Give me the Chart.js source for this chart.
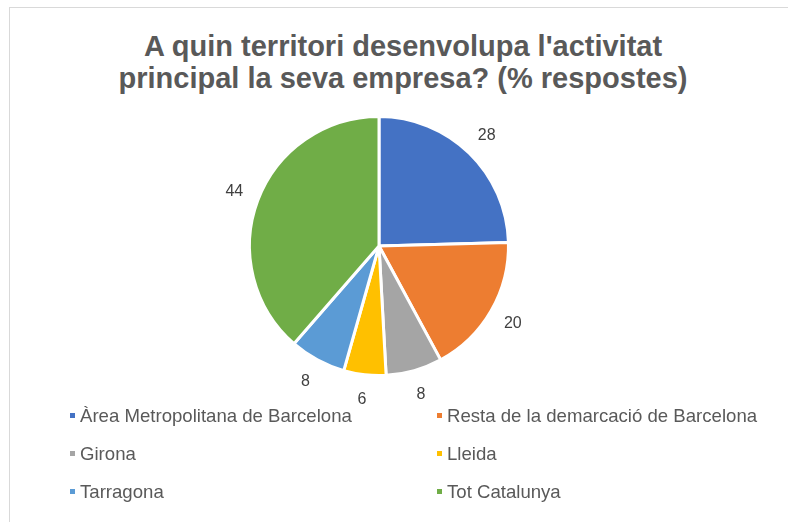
<!DOCTYPE html>
<html>
<head>
<meta charset="utf-8">
<script src="https://cdn.jsdelivr.net/npm/chart.js@4.4.0/dist/chart.umd.min.js"></script>
<style>
  body{margin:0;background:#fff;width:788px;height:522px;overflow:hidden;position:relative;}
  #marc{position:absolute;left:9px;top:7px;width:820px;height:540px;border:1px solid #d9d9d9;box-sizing:border-box;}
  #titol{position:absolute;left:9px;width:788px;top:30px;text-align:center;
    font:bold 29px "Liberation Sans",Arial,sans-serif;line-height:32px;color:#595959;}
  #grafic{position:absolute;left:0;top:0;}
  .llegenda{position:absolute;font:18.6px "Liberation Sans",Arial,sans-serif;color:#595959;white-space:nowrap;line-height:22px;}
  .llegenda span{display:inline-block;width:5px;height:5px;margin-right:5px;vertical-align:4px;}
</style>
</head>
<body>
<div id="marc"></div>
<div id="titol">A quin territori desenvolupa l'activitat<br>principal la seva empresa? (% respostes)</div>
<canvas id="grafic" width="788" height="522"></canvas>
<div id="llegenda"></div>
<script>
const territoris = [
    "Àrea Metropolitana de Barcelona",
    "Resta de la demarcació de Barcelona",
    "Girona",
    "Lleida",
    "Tarragona",
    "Tot Catalunya"
];
const respostes = [28, 20, 8, 6, 8, 44];
const colors = ["#4472C4", "#ED7D31", "#A5A5A5", "#FFC000", "#5B9BD5", "#70AD47"];

// etiquetes de valor fora del pastís
const etiquetesFora = {
    id:"etiquetesFora",
    afterDatasetsDraw(chart){
        const ctx = chart.ctx;
        const meta = chart.getDatasetMeta(0);
        ctx.save();
        ctx.font = "16px 'Liberation Sans', Arial, sans-serif";
        ctx.fillStyle = "#404040";
        ctx.textAlign = "center";
        ctx.textBaseline = "middle";
        meta.data.forEach((arc, i)=>{
            const mig = (arc.startAngle + arc.endAngle) / 2;
            const r = arc.outerRadius + 25;
            ctx.fillText(String(respostes[i]), arc.x + Math.cos(mig) * r, arc.y + Math.sin(mig) * r);
        });
        ctx.restore();
    }
};

new Chart(document.getElementById("grafic"), {
    type:"pie",
    data:{
        labels:territoris,
        datasets:[{
            data:respostes,
            backgroundColor:colors,
            borderColor:"#ffffff",
            borderWidth:3
        }]
    },
    options:{
        responsive:false,
        animation:false,
        layout:{
            padding:{left:248, right:278, top:115, bottom:145}
        },
        plugins:{
            legend:{display:false},
            tooltip:{enabled:false}
        }
    },
    plugins:[etiquetesFora]
});

// llegenda en dues columnes
const llegenda = document.getElementById("llegenda");
const columnesX = [70, 437];
const filesY = [405, 443, 481];
territoris.forEach((nom, i)=>{
    const div = document.createElement("div");
    div.className = "llegenda";
    div.style.left = columnesX[i % 2] + "px";
    div.style.top = filesY[Math.floor(i / 2)] + "px";
    const marca = document.createElement("span");
    marca.style.background = colors[i];
    div.appendChild(marca);
    div.appendChild(document.createTextNode(nom));
    llegenda.appendChild(div);
});
</script>
</body>
</html>
